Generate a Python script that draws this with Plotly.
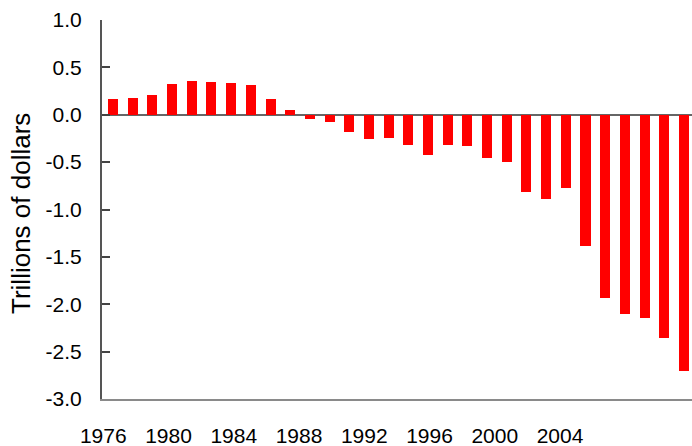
import plotly.graph_objects as go

years = list(range(1976, 2006))
values = [0.17, 0.18, 0.21, 0.32, 0.36, 0.35, 0.34, 0.31, 0.17, 0.05,
          -0.04, -0.08, -0.18, -0.26, -0.25, -0.32, -0.43, -0.32, -0.33, -0.46,
          -0.50, -0.82, -0.89, -0.77, -1.39, -1.93, -2.10, -2.14, -2.36, -2.70]
label_years = [1976, 1980, 1984, 1988, 1992, 1996, 2000, 2004]
y_ticks = [1.0, 0.5, 0.0, -0.5, -1.0, -1.5, -2.0, -2.5, -3.0]
y_title = "Trillions of dollars"

FONT = "Liberation Sans, Arial, sans-serif"

fig = go.Figure()
fig.add_trace(go.Bar(x=years, y=values, width=0.51,
                     marker=dict(color="#FF0000", line=dict(width=0)),
                     showlegend=False, hoverinfo="x+y"))
# invisible helper trace so the label axis is drawn
fig.add_trace(go.Scatter(x=label_years, y=[0] * len(label_years), xaxis="x2",
                         mode="markers", marker=dict(opacity=0),
                         showlegend=False, hoverinfo="skip"))

fig.update_layout(
    width=692, height=446,
    margin=dict(l=102, r=0, t=20, b=47, autoexpand=False),
    paper_bgcolor="white", plot_bgcolor="white",
    font=dict(family=FONT, color="black"),
    bargap=0,
    xaxis=dict(range=[1975.44, 2005.41], showgrid=False, zeroline=False,
               showticklabels=False, ticks="", showline=True,
               linecolor="#8a8a8a", linewidth=2, automargin=False),
    xaxis2=dict(overlaying="x", anchor="y", side="bottom",
                range=[1975.92, 2012.09], tickmode="array",
                tickvals=label_years, ticktext=[str(v) for v in label_years],
                showgrid=False, zeroline=False, showline=False, ticks="",
                ticklabelstandoff=22, automargin=False,
                tickfont=dict(size=21, family=FONT, color="black")),
    yaxis=dict(range=[-3, 1], tickmode="array", tickvals=y_ticks,
               ticktext=[f"{v:.1f}".replace("\u2212", "-") for v in y_ticks],
               showgrid=False, zeroline=True, zerolinecolor="#666666",
               zerolinewidth=2, showline=True, linecolor="#555555",
               linewidth=2, ticks="inside", ticklen=8, tickwidth=1.5,
               tickcolor="#444444", ticklabelstandoff=14, automargin=False,
               tickfont=dict(size=21, family=FONT, color="black")),
    annotations=[dict(text=y_title, textangle=-90, xref="paper", yref="paper",
                      x=(21 - 102) / 590, y=(446 - 47 - 214) / 379,
                      xanchor="center", yanchor="middle", showarrow=False,
                      font=dict(size=26, family=FONT, color="black"))],
)

fig.write_html("out.html", config={"displayModeBar": False},
               post_script="document.body.style.margin='0';")
